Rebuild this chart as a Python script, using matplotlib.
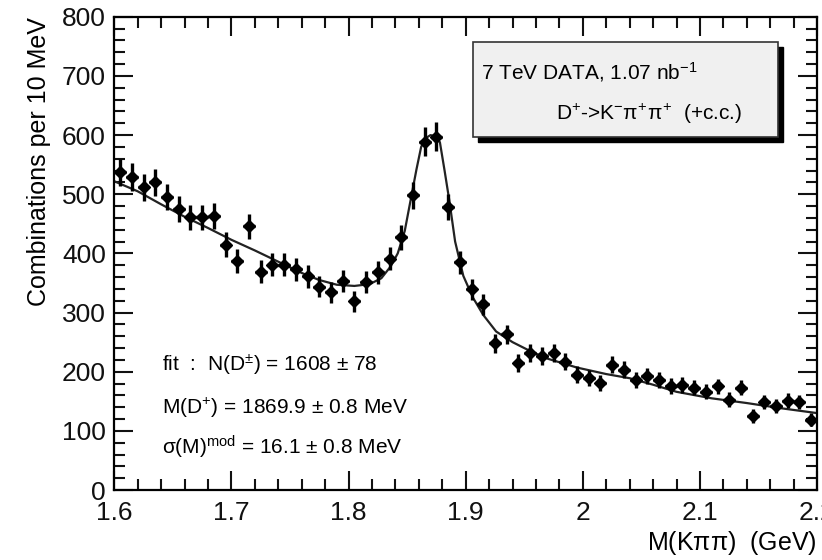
import matplotlib
matplotlib.use('Agg')
import numpy as np
import matplotlib.pyplot as plt
from matplotlib.patches import Rectangle
from matplotlib.ticker import MultipleLocator

plt.rcParams['font.family'] = ['Liberation Sans', 'DejaVu Sans']
plt.rcParams['mathtext.fontset'] = 'custom'
plt.rcParams['mathtext.rm'] = 'Liberation Sans'
plt.rcParams['mathtext.it'] = 'Liberation Sans'

# 10 MeV bins between 1.60 and 2.20 GeV
bin_width = 0.01
bin_edges = np.arange(1.60, 2.2001, bin_width)
bin_centers = 0.5 * (bin_edges[:-1] + bin_edges[1:])

# combinations per bin
counts = [537, 529, 512, 520, 495, 475, 461, 461, 463, 415,
          387, 446, 369, 381, 381, 373, 361, 344, 334, 353,
          319, 351, 368, 391, 427, 498, 589, 597, 478, 385,
          339, 314, 248, 263, 215, 232, 226, 232, 217, 195,
          189, 181, 212, 203, 186, 193, 186, 176, 178, 173,
          166, 175, 153, 173, 125, 149, 142, 151, 149, 119]

# fit curve, sampled from the plot
fit_x = [1.600, 1.620, 1.640, 1.660, 1.680, 1.700, 1.720, 1.740, 1.760, 1.775,
         1.790, 1.805, 1.818, 1.828, 1.836, 1.842, 1.848, 1.853, 1.858, 1.862,
         1.866, 1.870, 1.874, 1.878, 1.882, 1.886, 1.891, 1.898, 1.906, 1.915,
         1.926, 1.940, 1.955, 1.970, 1.995, 2.020, 2.040, 2.060, 2.080, 2.110,
         2.140, 2.170, 2.200]
fit_y = [522, 505, 483, 462, 443, 423, 405, 386, 367, 355,
         347, 345, 348, 358, 378, 400, 438, 490, 542, 580,
         595, 600, 598, 588, 540, 490, 420, 362, 326, 296,
         268, 250, 235, 222, 207, 196, 189, 178, 166, 155,
         147, 138, 130]

xticks = [1.6, 1.7, 1.8, 1.9, 2.0, 2.1, 2.2]
xtick_labels = ['1.6', '1.7', '1.8', '1.9', '2', '2.1', '2.2']
yticks = [0, 100, 200, 300, 400, 500, 600, 700, 800]

counts = np.array(counts, dtype=float)

fig = plt.figure(figsize=(8.22, 5.6), dpi=100)
ax = fig.add_axes([0.139, 0.125, 0.855, 0.845])

ax.plot(fit_x, fit_y, color='#222222', lw=1.6, zorder=2)
ax.errorbar(bin_centers, counts, yerr=np.sqrt(counts), xerr=bin_width / 2,
            fmt='D', ms=6.5, color='black', elinewidth=2.4, capsize=0, zorder=3)

ax.set_xlim(1.6, 2.2)
ax.set_ylim(0, 800)
ax.set_xticks(xticks)
ax.set_xticklabels(xtick_labels)
ax.set_yticks(yticks)
ax.xaxis.set_minor_locator(MultipleLocator(0.02))
ax.yaxis.set_minor_locator(MultipleLocator(20))
ax.tick_params(which='both', direction='in', top=True, right=True, width=1.5,
               labelsize=19, colors='#111111')
ax.tick_params(axis='x', which='major', length=14, pad=8)
ax.tick_params(axis='y', which='major', length=14, pad=6)
ax.tick_params(which='minor', length=8)
for sp in ax.spines.values():
    sp.set_linewidth(1.6)

ax.set_ylabel('Combinations per 10 MeV', fontsize=18, loc='top', labelpad=8)
ax.set_xlabel(r'M(K$\pi\pi$)  (GeV)', fontsize=18, loc='right', labelpad=3)

# info box with shadow
shadow = Rectangle((0.518, 0.735), 0.434, 0.201, transform=ax.transAxes,
                   facecolor='black', edgecolor='black', zorder=4)
box = Rectangle((0.510, 0.746), 0.434, 0.201, transform=ax.transAxes,
                facecolor='#f0f0f0', edgecolor='#333333', lw=1.2, zorder=5)
ax.add_patch(shadow)
ax.add_patch(box)
ax.text(0.522, 0.884, r'7 TeV DATA, 1.07 nb$^{-1}$', transform=ax.transAxes,
        fontsize=15, va='center', ha='left', zorder=6)
ax.text(0.628, 0.795, r'D$^{+}$->K$^{-}$$\pi^{+}$$\pi^{+}$  (+c.c.)',
        transform=ax.transAxes, fontsize=15, va='center', ha='left', zorder=6)

ax.text(0.068, 0.264, r'fit  :  N(D$^{\pm}$) = 1608 $\pm$ 78', transform=ax.transAxes,
        fontsize=15, va='center', ha='left')
ax.text(0.068, 0.173, r'M(D$^{+}$) = 1869.9 $\pm$ 0.8 MeV', transform=ax.transAxes,
        fontsize=15, va='center', ha='left')
ax.text(0.068, 0.091, r'$\sigma$(M)$^{\rm mod}$ = 16.1 $\pm$ 0.8 MeV', transform=ax.transAxes,
        fontsize=15, va='center', ha='left')

plt.savefig('out.png', dpi=100)
